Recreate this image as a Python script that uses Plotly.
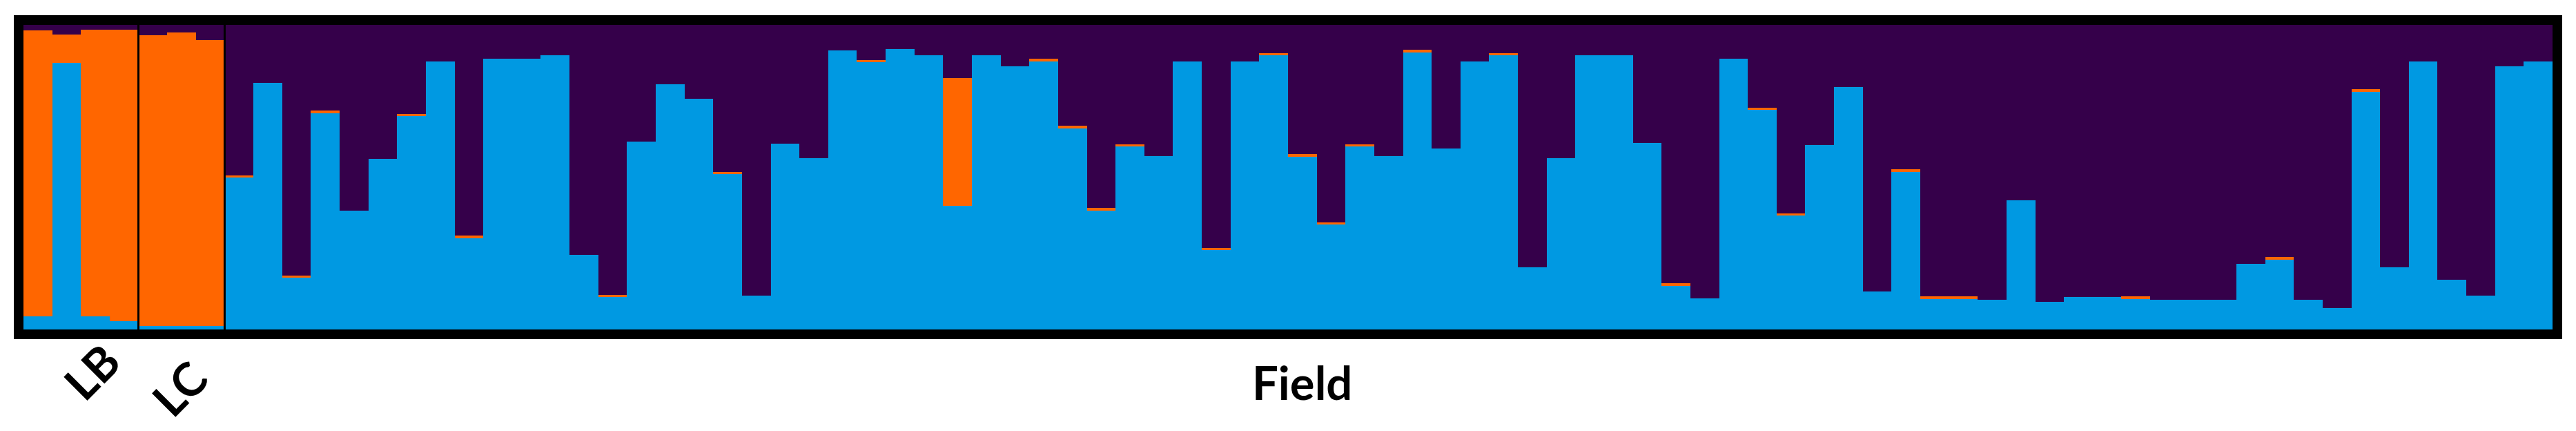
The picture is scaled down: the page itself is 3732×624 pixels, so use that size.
import plotly.graph_objects as go

# STRUCTURE-style ancestry bars: LB (4), LC (3), Field (81)
groups = ["LB"] * 4 + ["LC"] * 3 + ["Field"] * 81

# cluster 1 (blue) proportions, bottom of each bar
blue = [0.043, 0.875, 0.043, 0.027,
        0.011, 0.011, 0.011,
        0.50, 0.81, 0.17, 0.71, 0.39, 0.56, 0.70, 0.88, 0.30, 0.888,
        0.888, 0.90, 0.245, 0.106, 0.616, 0.805, 0.757, 0.51, 0.11, 0.61,
        0.563, 0.915, 0.877, 0.92, 0.90, 0.406, 0.90, 0.865, 0.88, 0.66,
        0.39, 0.60, 0.57, 0.88, 0.26, 0.88, 0.90, 0.567, 0.344, 0.60,
        0.57, 0.91, 0.595, 0.88, 0.90, 0.204, 0.563, 0.90, 0.90, 0.612,
        0.144, 0.102, 0.888, 0.72, 0.374, 0.605, 0.797, 0.125, 0.518, 0.10,
        0.10, 0.098, 0.423, 0.09, 0.106, 0.106, 0.10, 0.098, 0.098, 0.098,
        0.215, 0.23, 0.098, 0.07, 0.78, 0.204, 0.88, 0.164, 0.11, 0.865,
        0.88]

# cluster 2 (orange) proportions, middle of each bar
orange = [0.939, 0.093, 0.941, 0.957,
          0.956, 0.965, 0.939,
          0.006, 0.0, 0.008, 0.008, 0.0, 0.0, 0.008, 0.0, 0.008, 0.0,
          0.0, 0.0, 0.0, 0.008, 0.0, 0.0, 0.0, 0.008, 0.0, 0.0,
          0.0, 0.0, 0.008, 0.0, 0.0, 0.42, 0.0, 0.0, 0.008, 0.008,
          0.008, 0.008, 0.0, 0.0, 0.008, 0.0, 0.008, 0.008, 0.008, 0.008,
          0.0, 0.008, 0.0, 0.0, 0.008, 0.0, 0.0, 0.0, 0.0, 0.0,
          0.008, 0.0, 0.0, 0.008, 0.008, 0.0, 0.0, 0.0, 0.008, 0.008,
          0.008, 0.0, 0.0, 0.0, 0.0, 0.0, 0.008, 0.0, 0.0, 0.0,
          0.0, 0.008, 0.0, 0.0, 0.008, 0.0, 0.0, 0.0, 0.0, 0.0,
          0.0]

# cluster 3 (purple) is whatever is left of each individual
purple = [round(1 - b - o, 3) for b, o in zip(blue, orange)]

x = list(range(len(blue)))

fig = go.Figure()
fig.add_trace(go.Bar(x=x, y=blue, marker=dict(color="#0099E2", line=dict(width=0)), name="K1"))
fig.add_trace(go.Bar(x=x, y=orange, marker=dict(color="#FF6600", line=dict(width=0)), name="K2"))
fig.add_trace(go.Bar(x=x, y=purple, marker=dict(color="#35004A", line=dict(width=0)), name="K3"))

# group separators
for sep in [3.5, 6.5]:
    fig.add_shape(type="line", x0=sep, x1=sep, y0=0, y1=1, xref="x", yref="y",
                  line=dict(color="black", width=3))

lab_font = dict(family="Lato, Open Sans, sans-serif", size=67, color="black", weight="bold")
fig.add_annotation(text="LB", x=0.027, y=-0.137, xref="paper", yref="paper",
                   xanchor="center", yanchor="middle",
                   textangle=-45, showarrow=False, font=lab_font)
fig.add_annotation(text="LC", x=0.0615, y=-0.193, xref="paper", yref="paper",
                   xanchor="center", yanchor="middle",
                   textangle=-45, showarrow=False, font=lab_font)
fig.add_annotation(text="Field", x=0.5056, y=-0.172, xref="paper", yref="paper",
                   xanchor="center", yanchor="middle",
                   showarrow=False, font=lab_font)

# page body keeps its default 8px margin, so the figure is sized to fit inside it
fig.update_layout(
    width=3716, height=608,
    barmode="stack", bargap=0,
    showlegend=False,
    paper_bgcolor="white", plot_bgcolor="#35004A",
    margin=dict(l=26, r=19, t=28, b=139),
)
fig.update_xaxes(range=[-0.5, len(blue) - 0.5], showticklabels=False, ticks="",
                 showgrid=False, zeroline=False,
                 showline=True, linewidth=14, linecolor="black", mirror=True)
fig.update_yaxes(range=[0, 1], showticklabels=False, ticks="",
                 showgrid=False, zeroline=False,
                 showline=True, linewidth=14, linecolor="black", mirror=True)

fig.write_html("out.html")
